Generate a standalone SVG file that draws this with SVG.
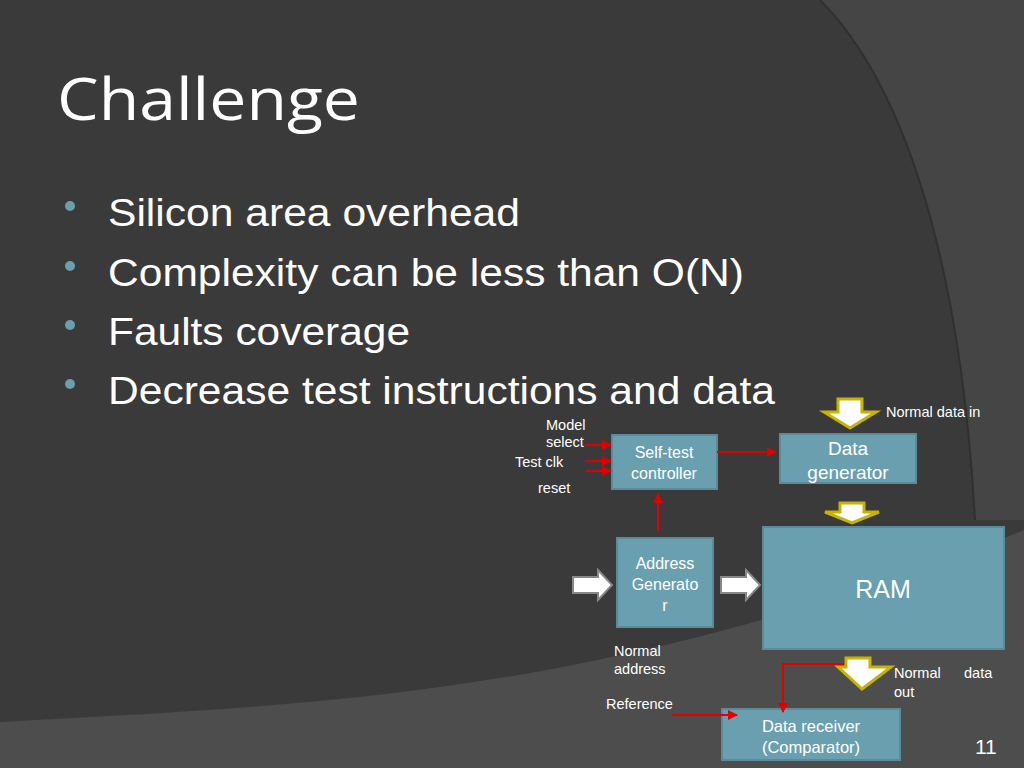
<svg xmlns="http://www.w3.org/2000/svg" width="1024" height="768" viewBox="0 0 1024 768">
<defs>
<style>
.n{fill:#6a9fb0;stroke:#5b8b9b;stroke-width:2}
.t{font-family:"Liberation Sans",Arial,sans-serif;fill:#fff}
.s{font-size:16px}
.r{stroke:#e00000;stroke-width:2;fill:none;marker-end:url(#ah)}
.y{fill:#fff;stroke:#c8b400;stroke-width:3}
.w{fill:#fff;stroke:#888;stroke-width:2}
</style>
<marker id="ah" viewBox="0 0 10 10" refX="9" refY="5" markerWidth="5" markerHeight="5" orient="auto"><path d="M0,0L10,5L0,10z" fill="#e00000"/></marker>
</defs>
<rect width="1024" height="768" fill="#3a3a3a"/>
<path d="M820,0 C900,80 960,250 975,520 L1024,520 L1024,0 Z" fill="#454545"/>
<path d="M820,0 C900,80 960,250 975,520" fill="none" stroke="#303030" stroke-width="2"/>
<path d="M0,722 C300,705 600,700 1024,530 L1024,768 L0,768 Z" fill="#4d4d4d"/>
<text x="57" y="120" font-family="'Open Sans','DejaVu Sans',sans-serif" font-size="58" fill="#fff" textLength="303" lengthAdjust="spacingAndGlyphs">Challenge</text>
<g font-family="'Liberation Sans',Arial,sans-serif" font-size="38" fill="#fff">
<circle cx="70" cy="206" r="5" fill="#6a9fb0"/><text x="108" y="226" textLength="412" lengthAdjust="spacingAndGlyphs">Silicon area overhead</text>
<circle cx="70" cy="266" r="5" fill="#6a9fb0"/><text x="108" y="286" textLength="636" lengthAdjust="spacingAndGlyphs">Complexity can be less than O(N)</text>
<circle cx="70" cy="325" r="5" fill="#6a9fb0"/><text x="108" y="345" textLength="302" lengthAdjust="spacingAndGlyphs">Faults coverage</text>
<circle cx="70" cy="384" r="5" fill="#6a9fb0"/><text x="108" y="404" textLength="667" lengthAdjust="spacingAndGlyphs">Decrease test instructions and data</text>
</g>
<g id="selftest"><rect class="n" x="612" y="435" width="105" height="54"/>
<text class="t s" x="664" y="458" text-anchor="middle">Self-test</text><text class="t s" x="664" y="479" text-anchor="middle">controller</text></g>
<g id="datagen"><rect class="n" x="780" y="434" width="136" height="49"/>
<text class="t" font-size="19" x="848" y="455" text-anchor="middle">Data</text><text class="t" font-size="19" x="848" y="479" text-anchor="middle">generator</text></g>
<g id="ram"><rect class="n" x="763" y="527" width="241" height="122"/>
<text class="t" font-size="25" x="883" y="598" text-anchor="middle">RAM</text></g>
<g id="addrgen"><rect class="n" x="617" y="538" width="96" height="89"/>
<text class="t s" x="665" y="569" text-anchor="middle">Address</text><text class="t s" x="665" y="590" text-anchor="middle">Generato</text><text class="t s" x="665" y="611" text-anchor="middle">r</text></g>
<g id="receiver"><rect class="n" x="722" y="709" width="178" height="51"/>
<text class="t" font-size="16.5" x="811" y="732" text-anchor="middle">Data receiver</text><text class="t" font-size="16.5" x="811" y="753" text-anchor="middle">(Comparator)</text></g>
<g id="connectors">
<line class="r" x1="585" y1="445" x2="611" y2="445"/>
<line class="r" x1="585" y1="461" x2="611" y2="461"/>
<line class="r" x1="585" y1="471" x2="611" y2="471"/>
<line class="r" x1="717" y1="452" x2="776" y2="452"/>
<line class="r" x1="658" y1="531" x2="658" y2="494"/>
<polyline class="r" points="849,664 783,664 783,712"/>
<line class="r" x1="672" y1="715" x2="737" y2="715"/>
<path class="y" d="M838,399 H862 V412 H876 L850,428 L824,412 H838 Z"/>
<path class="y" d="M840,503 H864 V512 H879 L852,523 L825,512 H840 Z"/>
<path class="y" d="M846,658 H870 V667 H891 L862,689 L838,667 H846 Z"/>
<path class="w" d="M573,577 H598 V570 L612,585 L598,600 V593 H573 Z"/>
<path class="w" d="M721,577 H746 V570 L760,585 L746,600 V593 H721 Z"/>
</g>
<g class="t" font-size="14.5">
<text x="546" y="430">Model</text><text x="546" y="447">select</text>
<text x="515" y="467">Test clk</text><text x="538" y="493">reset</text>
<text x="886" y="417">Normal data in</text>
<text x="614" y="656">Normal</text><text x="614" y="674">address</text>
<text x="606" y="709">Reference</text>
<text x="894" y="678">Normal</text><text x="964" y="678">data</text><text x="894" y="697">out</text>
</g>
<text class="t" font-size="21" x="975" y="754">11</text>
</svg>
